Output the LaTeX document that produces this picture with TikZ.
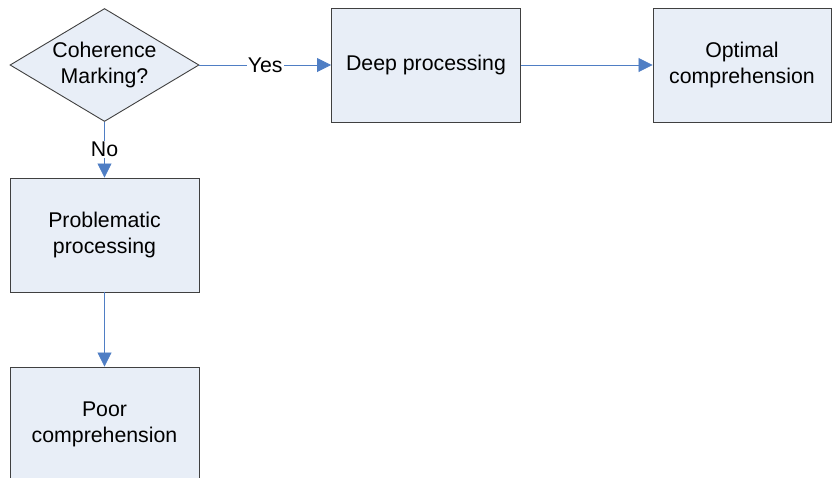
\documentclass[tikz,border=0pt]{standalone}
\usepackage{fontspec}
\setmainfont{Liberation Sans}
\usetikzlibrary{shapes.geometric,arrows.meta}
\definecolor{boxfill}{HTML}{E8EEF7}
\definecolor{boxline}{HTML}{404040}
\definecolor{flowblue}{HTML}{4F7EC4}
\tikzset{
  stepbox/.style={draw=boxline,fill=boxfill,line width=0.9pt,minimum width=189pt,minimum height=114pt,
    align=center,inner sep=0pt,font=\fontsize{21.3}{26}\selectfont},
  decision/.style={diamond,draw=boxline,fill=boxfill,line width=0.9pt,aspect=1.67,
    minimum width=189pt,minimum height=113pt,inner sep=0pt,align=center,font=\fontsize{21.3}{26}\selectfont},
  flow/.style={draw=flowblue,line width=0.8pt,-{Triangle[length=14pt,width=14pt]}},
  flowlabel/.style={fill=white,inner sep=1pt,font=\fontsize{21.3}{26}\selectfont}
}
\begin{document}
\begin{tikzpicture}[x=1pt,y=-1pt]
\useasboundingbox (0,0) rectangle (832,477);
\node[decision] (marking) at (104.5,65) {Coherence\\Marking?};
\node[stepbox] (deep) at (426,65) {Deep processing};
\node[stepbox,minimum width=178pt] (optimal) at (742,65) {Optimal\\comprehension};
\node[stepbox] (problem) at (104.5,235) {Problematic\\processing};
\node[stepbox] (poor) at (104.5,424) {Poor\\comprehension};
\draw[flow] (marking.east) -- node[flowlabel] {Yes} (deep.west);
\draw[flow] (deep.east) -- (optimal.west);
\draw[flow] (marking.south) -- node[flowlabel] {No} (problem.north);
\draw[flow] (problem.south) -- (poor.north);
\end{tikzpicture}
\end{document}
